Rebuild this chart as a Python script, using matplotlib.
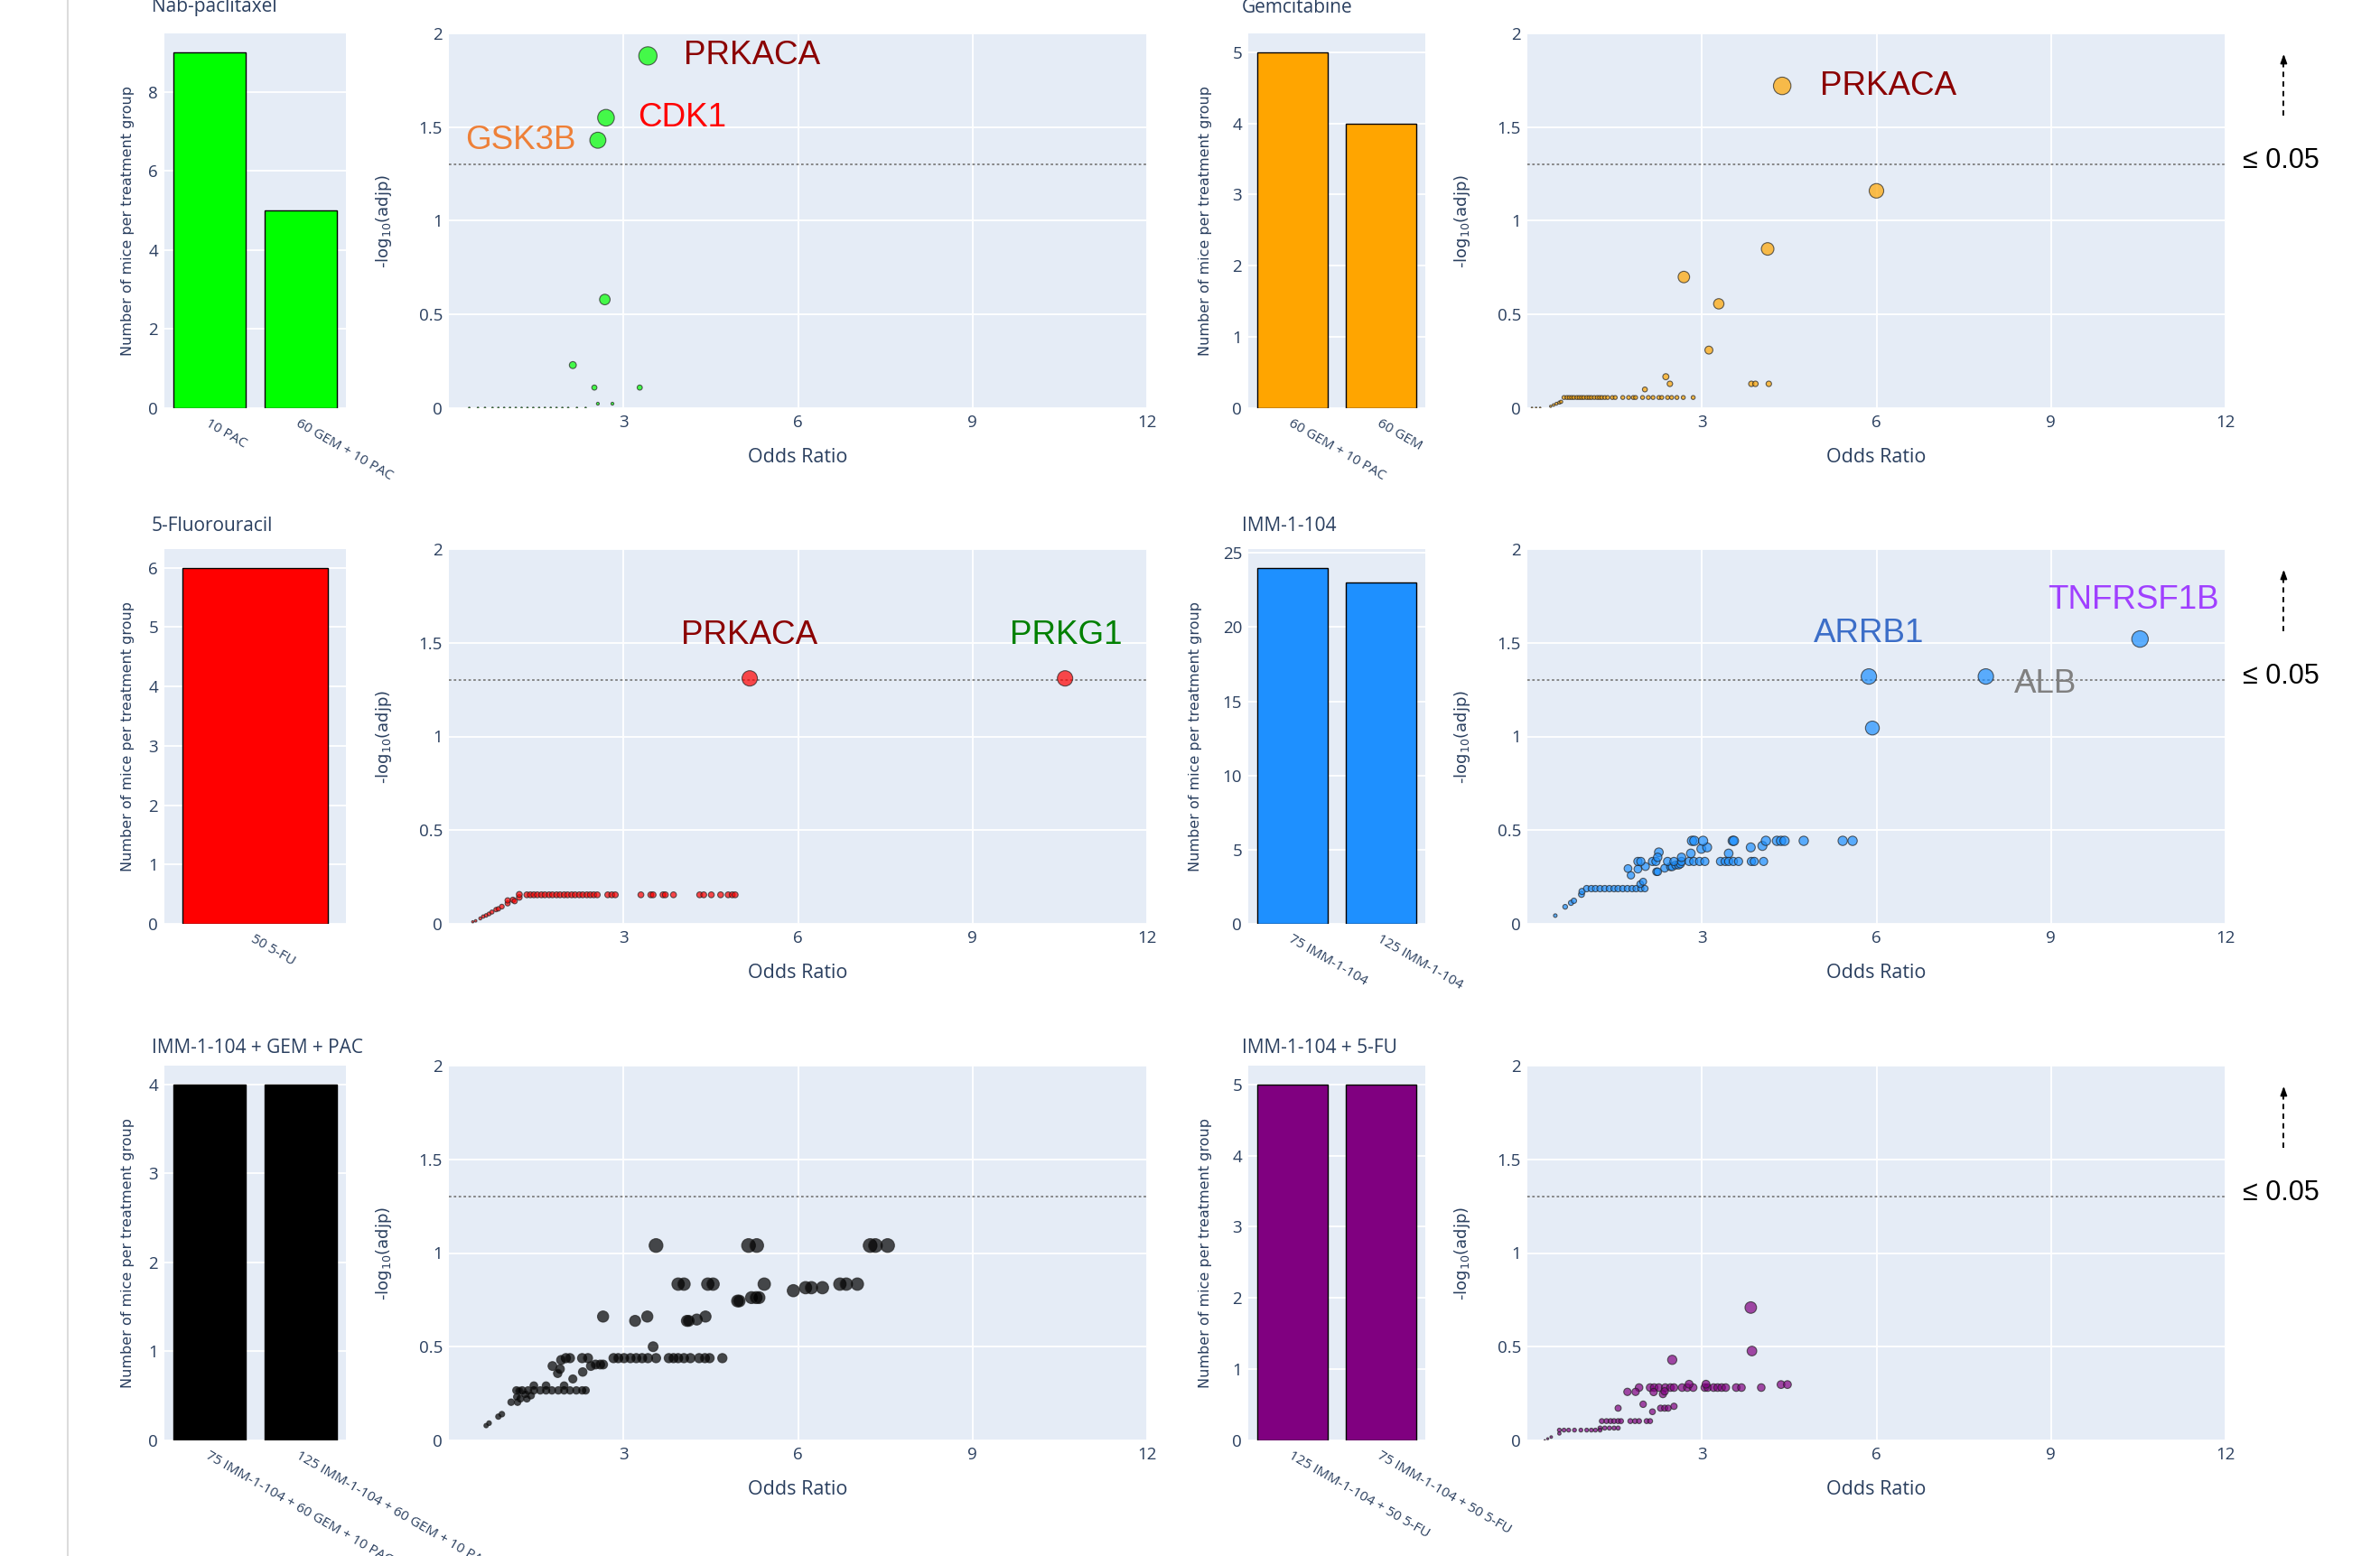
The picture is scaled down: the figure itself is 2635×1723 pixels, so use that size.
import numpy as np
import matplotlib.pyplot as plt
from matplotlib.lines import Line2D
from matplotlib.ticker import MultipleLocator, FixedLocator

# ---- bar data: number of mice per treatment group ----
nab_groups = ["10 PAC", "60 GEM + 10 PAC"]
nab_mice = [9, 5]
gem_groups = ["60 GEM + 10 PAC", "60 GEM"]
gem_mice = [5, 4]
fu_groups = ["50 5-FU"]
fu_mice = [6]
imm_groups = ["75 IMM-1-104", "125 IMM-1-104"]
imm_mice = [24, 23]
igp_groups = ["75 IMM-1-104 + 60 GEM + 10 PAC", "125 IMM-1-104 + 60 GEM + 10 PAC"]
igp_mice = [4, 4]
ifu_groups = ["125 IMM-1-104 + 50 5-FU", "75 IMM-1-104 + 50 5-FU"]
ifu_mice = [5, 5]

# ---- scatter data: odds ratio vs -log10(adjp) ----
nab_or = [3.42, 2.70, 2.56, 2.68, 2.13, 2.50, 3.28, 2.56, 2.81,
          0.35, 0.50, 0.62, 0.75, 0.85, 0.95, 1.05, 1.15, 1.25, 1.35,
          1.45, 1.55, 1.65, 1.75, 1.85, 1.95, 2.05, 2.20, 2.35]
nab_lp = [1.88, 1.55, 1.43, 0.58, 0.23, 0.11, 0.11, 0.024, 0.024,
          0.002, 0.002, 0.002, 0.002, 0.002, 0.002, 0.002, 0.002, 0.002, 0.002,
          0.002, 0.002, 0.002, 0.002, 0.002, 0.002, 0.002, 0.002, 0.002]

gem_or = [4.38, 6.00, 4.13, 2.69, 3.29, 3.12, 2.38, 2.45, 2.02, 3.85, 3.92, 4.15,
          0.63, 0.68, 0.72, 0.76, 0.80, 0.85, 0.89, 0.93, 0.97, 1.02, 1.06, 1.10,
          1.15, 1.20, 1.24, 1.28, 1.33, 1.38, 1.46, 1.51, 1.64, 1.74, 1.82, 1.86,
          1.98, 2.08, 2.16, 2.26, 2.31, 2.41, 2.48, 2.57, 2.68, 2.85,
          0.40, 0.45, 0.50, 0.55, 0.58, 0.08, 0.15, 0.22]
gem_lp = [1.72, 1.16, 0.85, 0.70, 0.557, 0.31, 0.168, 0.13, 0.10, 0.13, 0.13, 0.13,
          0.057, 0.057, 0.057, 0.057, 0.057, 0.057, 0.057, 0.057, 0.057, 0.057, 0.057, 0.057,
          0.057, 0.057, 0.057, 0.057, 0.057, 0.057, 0.057, 0.057, 0.057, 0.057, 0.057, 0.057,
          0.057, 0.057, 0.057, 0.057, 0.057, 0.057, 0.057, 0.057, 0.057, 0.057,
          0.010, 0.017, 0.024, 0.030, 0.034, 0.002, 0.002, 0.002]

fu_or = [5.17, 10.59,
         1.34, 1.40, 1.46, 1.52, 1.59, 1.65, 1.72, 1.78, 1.85, 1.91, 1.98, 2.04,
         2.11, 2.17, 2.24, 2.30, 2.37, 2.43, 2.49, 2.55, 2.73, 2.80, 2.86,
         3.30, 3.47, 3.51, 3.68, 3.72, 3.86, 4.31, 4.38, 4.51, 4.67, 4.80, 4.87, 4.92,
         0.41, 0.46, 0.54, 0.59, 0.64, 0.69, 0.74, 0.81, 0.85, 0.91, 1.01, 1.01,
         1.10, 1.13, 1.21, 1.21]
fu_lp = [1.31, 1.31,
         0.155, 0.155, 0.155, 0.155, 0.155, 0.155, 0.155, 0.155, 0.155, 0.155, 0.155, 0.155,
         0.155, 0.155, 0.155, 0.155, 0.155, 0.155, 0.155, 0.155, 0.155, 0.155, 0.155,
         0.155, 0.155, 0.155, 0.155, 0.155, 0.155, 0.155, 0.155, 0.155, 0.155, 0.155, 0.155, 0.155,
         0.011, 0.016, 0.029, 0.039, 0.045, 0.053, 0.063, 0.076, 0.080, 0.092, 0.109, 0.125,
         0.128, 0.121, 0.141, 0.157]

imm_or = [5.87, 7.88, 5.93, 10.53,
          0.48, 0.65, 0.75, 0.80, 0.93, 0.94,
          1.02, 1.10, 1.17, 1.25, 1.33, 1.41, 1.49, 1.56, 1.64, 1.72, 1.80, 1.87, 1.95, 2.02,
          1.94, 1.99, 1.73, 1.78, 1.90, 2.03,
          1.90, 1.95, 2.15, 2.21,
          2.26, 2.24, 2.22, 2.24, 2.36, 2.46, 2.49, 2.55, 2.60, 2.63,
          2.41, 2.52, 2.65, 2.78, 2.86, 2.96, 3.05,
          2.65, 2.81, 2.99, 3.09,
          2.83, 2.87, 3.02, 3.46, 3.53, 3.55,
          3.32, 3.40, 3.46, 3.54, 3.63, 3.85, 3.90, 4.06,
          3.84, 4.04, 4.10, 4.29, 4.36, 4.42, 4.75, 5.42, 5.59]
imm_lp = [1.32, 1.32, 1.045, 1.52,
          0.044, 0.091, 0.112, 0.123, 0.157, 0.173,
          0.188, 0.188, 0.188, 0.188, 0.188, 0.188, 0.188, 0.188, 0.188, 0.188, 0.188, 0.188, 0.188, 0.188,
          0.212, 0.225, 0.295, 0.259, 0.292, 0.306,
          0.333, 0.333, 0.333, 0.333,
          0.382, 0.355, 0.278, 0.278, 0.297, 0.305, 0.305, 0.314, 0.314, 0.320,
          0.333, 0.333, 0.333, 0.333, 0.333, 0.333, 0.333,
          0.355, 0.376, 0.400, 0.408,
          0.443, 0.443, 0.443, 0.376, 0.443, 0.443,
          0.333, 0.333, 0.333, 0.333, 0.333, 0.333, 0.333, 0.333,
          0.408, 0.416, 0.443, 0.443, 0.443, 0.443, 0.443, 0.443, 0.443]

igp_or = [3.56, 5.15, 5.29, 7.24, 7.33, 7.54,
          3.94, 4.04, 4.45, 4.54, 5.42,
          5.92, 6.13, 6.23, 6.42, 6.72, 6.83, 7.02,
          4.96, 4.99, 5.20, 5.28, 5.33,
          2.65, 3.20, 3.41, 4.09, 4.12, 4.26, 4.41,
          3.51,
          2.01, 2.08, 2.29, 2.39, 2.83, 2.91, 3.01, 3.12, 3.22, 3.32, 3.42,
          3.56, 3.78, 3.86, 3.94, 4.04, 4.15, 4.30, 4.40, 4.48, 4.70,
          1.93, 1.78, 1.91, 1.87, 2.13, 2.30, 2.44, 2.52, 2.60, 2.65,
          1.16, 1.26, 1.36, 1.46, 1.57, 1.67, 1.77, 1.88, 1.98, 2.08, 2.19, 2.29, 2.35,
          1.21, 1.31, 1.41, 1.23, 1.34, 1.67, 1.46, 1.98,
          1.07, 1.18, 1.17, 0.91, 0.85, 0.69, 0.64]
igp_lp = [1.04, 1.04, 1.04, 1.04, 1.04, 1.04,
          0.834, 0.834, 0.834, 0.834, 0.834,
          0.799, 0.815, 0.815, 0.815, 0.834, 0.834, 0.834,
          0.744, 0.744, 0.762, 0.762, 0.762,
          0.661, 0.638, 0.661, 0.638, 0.638, 0.645, 0.661,
          0.500,
          0.439, 0.439, 0.439, 0.439, 0.439, 0.439, 0.439, 0.439, 0.439, 0.439, 0.439,
          0.439, 0.439, 0.439, 0.439, 0.439, 0.439, 0.439, 0.439, 0.439, 0.439,
          0.429, 0.397, 0.381, 0.358, 0.328, 0.365, 0.397, 0.405, 0.405, 0.405,
          0.267, 0.267, 0.267, 0.267, 0.267, 0.267, 0.267, 0.267, 0.267, 0.267, 0.267, 0.267, 0.267,
          0.264, 0.248, 0.240, 0.223, 0.223, 0.292, 0.292, 0.292,
          0.204, 0.204, 0.232, 0.140, 0.127, 0.092, 0.079]

ifu_or = [3.84, 3.86, 2.49,
          1.92, 2.11, 2.18, 2.26, 2.37, 2.46, 2.52, 2.66, 2.75, 2.85,
          3.05, 3.10, 3.20, 3.27, 3.34, 3.41, 3.59, 3.68, 4.02,
          4.36, 4.47, 2.78, 3.07, 1.72, 1.86, 2.17, 2.33, 2.36,
          1.56, 1.99, 2.15, 2.29, 2.36, 2.42, 2.52,
          1.28, 1.36, 1.43, 1.49, 1.56, 1.61, 1.77, 1.85, 1.92, 2.05, 2.11,
          1.25, 1.33, 1.41, 1.49, 1.56,
          0.55, 0.63, 0.71, 0.81, 0.92, 1.02, 1.10, 1.17, 1.25,
          0.55, 0.41, 0.35, 0.30]
ifu_lp = [0.709, 0.477, 0.430,
          0.282, 0.282, 0.282, 0.282, 0.282, 0.282, 0.282, 0.282, 0.282, 0.282,
          0.282, 0.282, 0.282, 0.282, 0.282, 0.282, 0.282, 0.282, 0.282,
          0.298, 0.298, 0.300, 0.300, 0.259, 0.259, 0.258, 0.247, 0.262,
          0.172, 0.193, 0.153, 0.172, 0.172, 0.172, 0.182,
          0.103, 0.103, 0.103, 0.103, 0.103, 0.103, 0.103, 0.103, 0.103, 0.103, 0.103,
          0.066, 0.066, 0.066, 0.066, 0.066,
          0.055, 0.055, 0.055, 0.055, 0.055, 0.055, 0.055, 0.055, 0.055,
          0.037, 0.018, 0.009, 0.001]

# gene labels: (text, x, y, colour, alignment)
nab_genes = [("PRKACA", 4.04, 1.88, "#8B0000", "left"),
             ("CDK1", 3.24, 1.55, "#FF0000", "left"),
             ("GSK3B", 2.19, 1.43, "#EE8038", "right")]
gem_genes = [("PRKACA", 5.03, 1.72, "#8B0000", "left")]
fu_genes = [("PRKACA", 5.17, 1.54, "#8B0000", "center"),
            ("PRKG1", 10.6, 1.54, "#008000", "center")]
imm_genes = [("ARRB1", 5.87, 1.55, "#3C6EC8", "center"),
             ("TNFRSF1B", 10.42, 1.73, "#A040FF", "center"),
             ("ALB", 8.91, 1.28, "#808080", "center")]

panels = [
    dict(title="Nab-paclitaxel", groups=nab_groups, mice=nab_mice, step=2, color="#00FF00",
         x=nab_or, y=nab_lp, genes=nab_genes, row=0, col=0),
    dict(title="Gemcitabine", groups=gem_groups, mice=gem_mice, step=1, color="#FFA500",
         x=gem_or, y=gem_lp, genes=gem_genes, row=0, col=1),
    dict(title="5-Fluorouracil", groups=fu_groups, mice=fu_mice, step=1, color="#FF0000",
         x=fu_or, y=fu_lp, genes=fu_genes, row=1, col=0),
    dict(title="IMM-1-104", groups=imm_groups, mice=imm_mice, step=5, color="#1E90FF",
         x=imm_or, y=imm_lp, genes=imm_genes, row=1, col=1),
    dict(title="IMM-1-104 + GEM + PAC", groups=igp_groups, mice=igp_mice, step=1, color="#000000",
         x=igp_or, y=igp_lp, genes=[], row=2, col=0),
    dict(title="IMM-1-104 + 5-FU", groups=ifu_groups, mice=ifu_mice, step=1, color="#800080",
         x=ifu_or, y=ifu_lp, genes=[], row=2, col=1),
]

W, H = 2635, 1723
BG = "#E5ECF6"
TXT = "#2a3f5f"
FONT = "Open Sans"

fig = plt.figure(figsize=(W / 100, H / 100), dpi=100)
fig.add_artist(Line2D([75 / W, 75 / W], [0, 1], color="#dcdcdc", lw=1.5))

row_top = [37, 608, 1180]
ax_h = 415
bar_left = [182, 1382]
bar_w = [201, 196]
sc_left = [497, 1691]
sc_w = 773
title_y = [8, 582, 1160]
title_x = [168, 1375]


def style_axes(ax):
    ax.set_facecolor(BG)
    for s in ax.spines.values():
        s.set_visible(False)
    ax.tick_params(length=0, labelsize=13.5, labelcolor=TXT, pad=5)
    for lab in ax.get_xticklabels() + ax.get_yticklabels():
        lab.set_fontfamily(FONT)
    ax.set_axisbelow(True)


for p in panels:
    r, c = p["row"], p["col"]
    bottom = 1 - (row_top[r] + ax_h) / H

    # bar chart
    axb = fig.add_axes([bar_left[c] / W, bottom, bar_w[c] / W, ax_h / H])
    n = len(p["groups"])
    axb.bar(range(n), p["mice"], width=0.8, color=p["color"], edgecolor="black", linewidth=1.0)
    axb.set_xlim(-0.5, n - 0.5)
    axb.set_ylim(0, max(p["mice"]) * 1.0526)
    axb.yaxis.set_major_locator(MultipleLocator(p["step"]))
    axb.yaxis.grid(True, color="white", lw=1.3)
    axb.set_xticks(range(n))
    axb.set_xticklabels(p["groups"], rotation=-30, ha="left", va="top",
                        rotation_mode="anchor")
    style_axes(axb)
    for lab in axb.get_xticklabels():
        lab.set_fontsize(11)
    axb.tick_params(axis="x", pad=7)
    axb.set_ylabel("Number of mice per treatment group", fontsize=11.5, color=TXT,
                   family="DejaVu Sans", labelpad=11 if c == 0 else 16)

    # volcano-style scatter
    axs = fig.add_axes([sc_left[c] / W, bottom, sc_w / W, ax_h / H])
    xs = np.array(p["x"])
    ys = np.array(p["y"])
    d_px = 1 + 14 * np.sqrt(ys)
    axs.scatter(xs, ys, s=(d_px * 0.72) ** 2, color=p["color"], alpha=0.7,
                edgecolors="#222222", linewidths=0.8, zorder=3)
    axs.axhline(1.301, color="#7f7f7f", lw=1.3, ls=(0, (1.5, 1.5)), zorder=2)
    axs.set_xlim(0, 12)
    axs.set_ylim(0, 2)
    axs.xaxis.set_major_locator(FixedLocator([3, 6, 9, 12]))
    axs.set_yticks([0, 0.5, 1, 1.5, 2])
    axs.set_yticklabels(["0", "0.5", "1", "1.5", "2"])
    axs.grid(True, color="white", lw=1.3)
    style_axes(axs)
    axs.set_xlabel("Odds Ratio", fontsize=15.5, color=TXT, family=FONT, labelpad=14)
    axs.set_ylabel("-log$_{10}$(adjp)", fontsize=13, color=TXT, family="DejaVu Sans")
    axs.yaxis.set_label_coords(-0.079, 0.5)

    for name, gx, gy, gcol, ha in p["genes"]:
        axs.text(gx, gy, name, color=gcol, fontsize=26.5, family="Liberation Sans",
                 ha=ha, va="center", zorder=4)

    if c == 1:
        axs.text(12.3, 1.32, "≤ 0.05", fontsize=22, family="Liberation Sans",
                 color="black", ha="left", va="center", clip_on=False)
        axs.plot([13, 13], [1.56, 1.85], color="black", lw=1.4, ls=(0, (3, 2.5)),
                 clip_on=False)
        axs.annotate("", xy=(13, 1.89), xytext=(13, 1.84),
                     arrowprops=dict(arrowstyle="-|>,head_length=0.6,head_width=0.22",
                                     color="black", lw=1.2, shrinkA=0, shrinkB=0),
                     annotation_clip=False)

    fig.text(title_x[c] / W, 1 - title_y[r] / H, p["title"], fontsize=15,
             color=TXT, family=FONT, ha="left", va="center")

fig.savefig("out.png", dpi=100, facecolor="white")
